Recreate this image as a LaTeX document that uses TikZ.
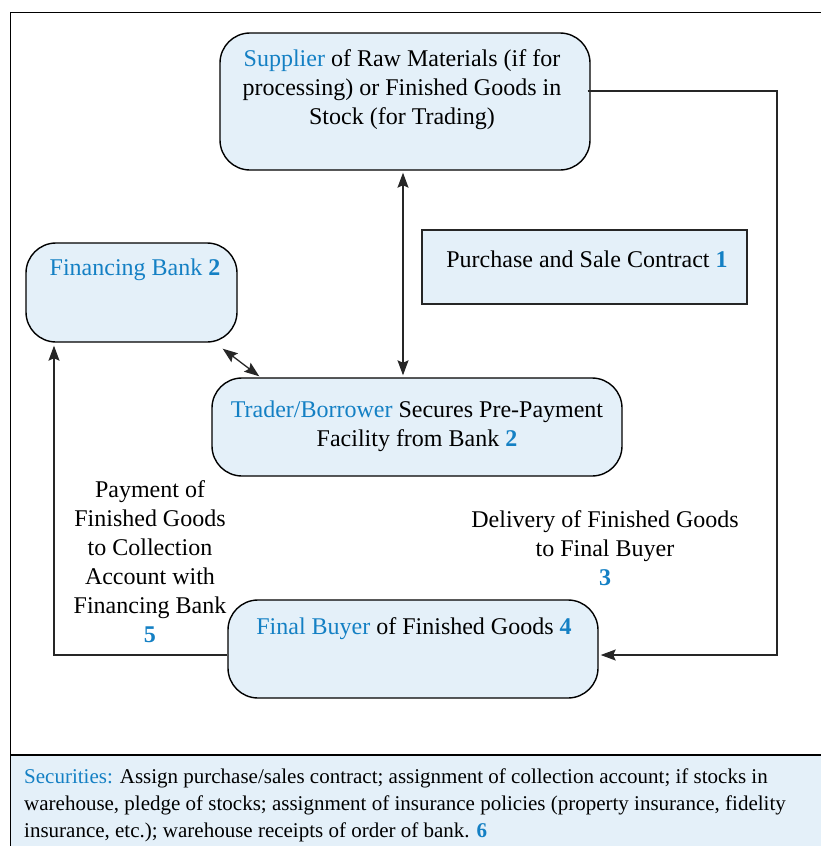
\documentclass[tikz,border=0pt]{standalone}
\usepackage{fontspec}
\setmainfont{Liberation Serif}
\usetikzlibrary{calc,arrows.meta}
\definecolor{hiblue}{HTML}{1480C4}
\definecolor{boxfill}{HTML}{E4F0F9}
\newcommand{\hl}[1]{\textcolor{hiblue}{#1}}
\newcommand{\num}[1]{\textcolor{hiblue}{\textbf{#1}}}
\begin{document}
\begin{tikzpicture}[x=1pt,y=-1pt,
  roundbox/.style={draw=black,line width=1.4pt,fill=boxfill,rounded corners=30pt,
    inner sep=0pt,anchor=center},
  plainbox/.style={draw=black!85,line width=1.2pt,fill=boxfill,inner sep=0pt,anchor=center},
  txt/.style={font=\fontsize{24}{29}\selectfont,align=center,inner sep=0pt,text=black},
  link/.style={draw=black!85,line width=1.3pt},
  tip/.style={-{Stealth[length=15pt,width=11pt,inset=2.5pt]}},
  dbl/.style={{Stealth[length=15pt,width=11pt,inset=2.5pt]}-{Stealth[length=15pt,width=11pt,inset=2.5pt]}}
]
\useasboundingbox (0,0) rectangle (820,846);

% outer frame and the securities band
\fill[boxfill] (10.5,755) rectangle (822,848);
\draw[line width=1.6pt] (822,12.5) -- (10.5,12.5) -- (10.5,848);
\draw[line width=1.4pt] (10.5,755) -- (822,755);

% boxes
\node[roundbox,minimum width=370pt,minimum height=137pt] (sup) at (405,101.5) {};
\node[plainbox,minimum width=325pt,minimum height=74pt] (psc) at (584.5,267) {};
\node[roundbox,minimum width=211pt,minimum height=99pt] (bank) at (131.5,292.5) {};
\node[roundbox,minimum width=410pt,minimum height=98pt] (trd) at (417,427) {};
\node[roundbox,minimum width=370pt,minimum height=98pt] (buy) at (413,649) {};

% box texts
\node[txt] (suptxt) at (402,90) {\hl{Supplier} of Raw Materials (if for\\processing) or Finished Goods in\\Stock (for Trading)};
\node[txt] (psctxt) at (587,259.5) {Purchase and Sale Contract \num{1}};
\node[txt] (banktxt) at (135,270) {\hl{Financing Bank} \num{2}};
\node[txt] (trdtxt) at (417,426.5) {\hl{Trader/Borrower} Secures Pre-Payment\\Facility from Bank \num{2}};
\node[txt] (buytxt) at (414,629) {\hl{Final Buyer} of Finished Goods \num{4}};

% connector labels
\node[txt] (paytxt) at (150,561.5) {Payment of\\Finished Goods\\to Collection\\Account with\\Financing Bank\\\num{5}};
\node[txt] (deltxt) at (605,548.5) {Delivery of Finished Goods\\to Final Buyer\\\num{3}};

% connectors
\coordinate (vx) at (403,0);
\draw[link,dbl] ($(sup.south -| vx)+(0,2)$) -- ($(trd.north -| vx)+(0,-2)$);
\draw[link,dbl] ($(bank.south east)+(-15,6)$) -- ($(trd.north west)+(48,-1)$);

\coordinate (r1) at (777,91);
\coordinate (r2) at (777,655);
\draw[link,tip] ($(sup.east)+(-3,-10.5)$) -- (r1) -- (r2) -- ($(buy.east)+(2,6)$);

\coordinate (l1) at (54,655);
\draw[link,tip] ($(buy.west)+(0,6)$) -- (l1) -- ($(bank.south -| l1)+(0,3)$);

% securities note
\node[anchor=north west,inner sep=0pt,align=left,font=\fontsize{21}{26.7}\selectfont] (sec) at (24,769)
  {\hl{Securities:} Assign purchase/sales contract; assignment of collection account; if stocks in\\
   warehouse, pledge of stocks; assignment of insurance policies (property insurance, fidelity\\
   insurance, etc.); warehouse receipts of order of bank. \num{6}};
\end{tikzpicture}
\end{document}
